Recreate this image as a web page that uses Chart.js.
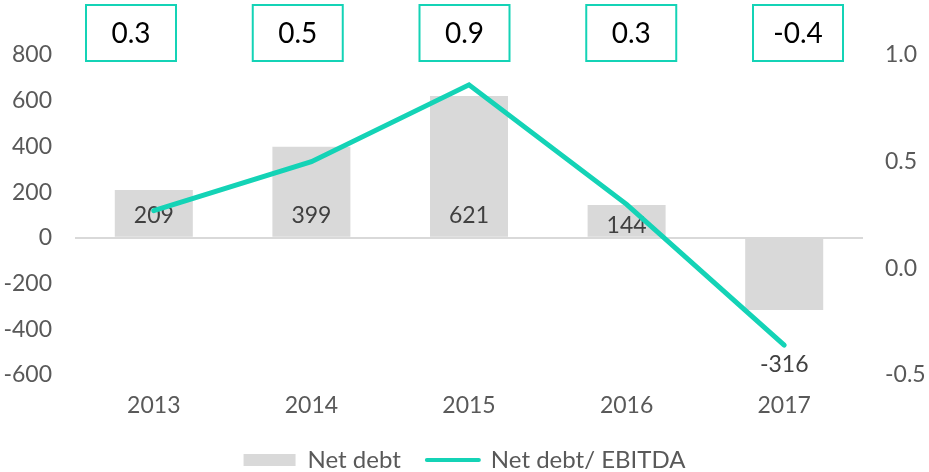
<!DOCTYPE html>
<html>
<head>
<meta charset="utf-8">
<script src="https://cdn.jsdelivr.net/npm/chart.js@4.4.1/dist/chart.umd.min.js"></script>
<style>
	body { margin: 0; background: #ffffff; }
	#wrap { width: 929px; height: 472px; }
</style>
</head>
<body>
<div id="wrap"><canvas id="debtChart"></canvas></div>
<script>
const YEARS = ['2013', '2014', '2015', '2016', '2017'];
const NET_DEBT = [209, 399, 621, 144, -316];
const DEBT_EBITDA = [0.27, 0.5, 0.86, 0.3, -0.36];

const TEAL = '#14d3b6';
const BAR_GREY = '#d9d9d9';
const TICK_GREY = '#595959';
const FONT = 'Lato, "Open Sans", sans-serif';


// value labels on the bars, drawn before the line so the line sits on top
let barLabelsPlugin = {
	id: 'barLabels',
	afterDatasetDraw: (chart, args) => {
		if (args.index !== 0) return;
		const { ctx } = chart;
		ctx.save();
		ctx.font = '23px ' + FONT;
		ctx.fillStyle = '#404040';
		ctx.textAlign = 'center';
		ctx.textBaseline = 'middle';
		args.meta.data.forEach((bar, i) => {
			let v = NET_DEBT[i];
			let ty = (v >= 0) ? Math.max(bar.y + 21, bar.base - 21) : bar.y + 54;
			ctx.fillText(String(v), bar.x, ty);
		});
		ctx.restore();
	},
};

// the boxed ratio call-outs along the top
let ratioBoxesPlugin = {
	id: 'ratioBoxes',
	afterDraw: (chart) => {
		const { ctx } = chart;
		ctx.save();
		DEBT_EBITDA.forEach((r, i) => {
			let cx = 131 + i * 166.75;
			ctx.fillStyle = '#ffffff';
			ctx.fillRect(cx - 45, 5, 90, 56);
			ctx.strokeStyle = TEAL;
			ctx.lineWidth = 2;
			ctx.strokeRect(cx - 45, 5, 90, 56);
			ctx.font = '28px ' + FONT;
			ctx.fillStyle = '#000000';
			ctx.textAlign = 'center';
			ctx.textBaseline = 'middle';
			ctx.fillText(r.toFixed(1), cx, 34);
		});
		ctx.restore();
	},
};


let chartData = {
	labels: YEARS,
	datasets: [
		{
			type: 'bar',
			label: 'Net debt',
			data: NET_DEBT,
			backgroundColor: BAR_GREY,
			borderWidth: 0,
			barPercentage: 0.495,
			categoryPercentage: 1.0,
			yAxisID: 'y',
			order: 2,
		},
		{
			type: 'line',
			label: 'Net debt/ EBITDA',
			data: DEBT_EBITDA,
			borderColor: TEAL,
			backgroundColor: TEAL,
			borderWidth: 5,
			borderCapStyle: 'round',
			borderJoinStyle: 'miter',
			pointRadius: 0,
			tension: 0,
			yAxisID: 'y1',
			order: 1,
		},
	]
};

let chartOptions = {
	responsive: true,
	maintainAspectRatio: false,
	animation: false,
	layout: {
		padding: { top: 55, left: 0, right: 0, bottom: 0 },
	},
	scales: {
		x: {
			grid: { display: false, drawTicks: false },
			border: { display: false },
			ticks: {
				color: TICK_GREY,
				font: { family: FONT, size: 23 },
				padding: 17,
			},
			afterFit: (s) => { s.height = 47; },
		},
		y: {
			position: 'left',
			min: -600,
			max: 800,
			border: { display: false },
			grid: {
				drawTicks: false,
				lineWidth: 2,
				color: (c) => (c.tick && c.tick.value === 0) ? BAR_GREY : 'rgba(0,0,0,0)',
			},
			ticks: {
				stepSize: 200,
				color: TICK_GREY,
				font: { family: FONT, size: 23 },
				padding: 23,
			},
			afterFit: (s) => { s.width = 75; },
		},
		y1: {
			position: 'right',
			min: -0.5,
			max: 1.0,
			border: { display: false },
			grid: { display: false, drawOnChartArea: false, drawTicks: false },
			ticks: {
				stepSize: 0.5,
				color: TICK_GREY,
				font: { family: FONT, size: 23 },
				padding: 22,
				callback: (value) => Number(value).toFixed(1),
			},
			afterFit: (s) => { s.width = 66; },
		},
	},
	plugins: {
		tooltip: { enabled: false },
		legend: {
			display: true,
			position: 'bottom',
			maxHeight: 50,
			labels: {
				usePointStyle: true,
				pointStyleWidth: 52,
				boxHeight: 12,
				padding: 26,
				color: TICK_GREY,
				font: { family: FONT, size: 24 },
				generateLabels: (chart) => [
					{
						text: 'Net debt',
						fillStyle: BAR_GREY,
						strokeStyle: BAR_GREY,
						lineWidth: 0,
						pointStyle: 'rect',
						fontColor: TICK_GREY,
						datasetIndex: 0,
					},
					{
						text: 'Net debt/ EBITDA',
						fillStyle: TEAL,
						strokeStyle: TEAL,
						lineWidth: 4,
						lineCap: 'round',
						pointStyle: 'line',
						fontColor: TICK_GREY,
						datasetIndex: 1,
					},
				],
			},
		},
	},
};

let debtChart = new Chart(document.getElementById('debtChart'), {
	type: 'bar',
	data: chartData,
	options: chartOptions,
	plugins: [barLabelsPlugin, ratioBoxesPlugin],
});
</script>
</body>
</html>
